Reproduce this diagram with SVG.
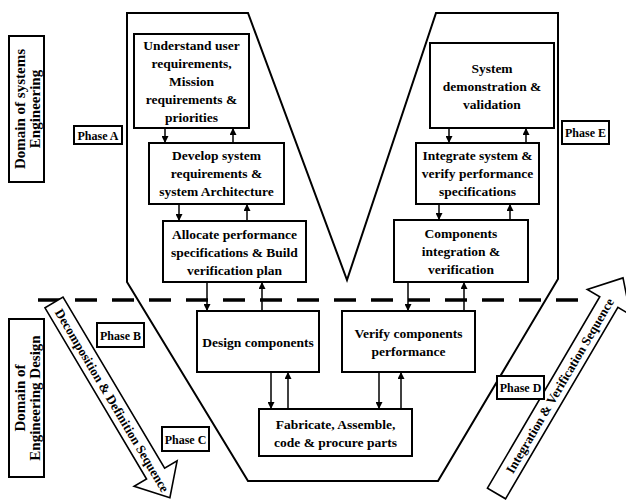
<svg xmlns="http://www.w3.org/2000/svg" width="626" height="500" viewBox="0 0 626 500">
  <defs>
    <style>
      .bg { fill: #ffffff; }
      .frame { fill: none; stroke: #000; stroke-width: 2; stroke-linejoin: miter; }
      .box { fill: #ffffff; stroke: #000; stroke-width: 2; }
      .lbl { font-family: "Liberation Serif", "Times New Roman", serif; font-weight: bold; font-size: 13.5px; fill: #000; text-anchor: middle; }
      .phase { font-family: "Liberation Serif", "Times New Roman", serif; font-weight: bold; font-size: 12px; fill: #000; text-anchor: middle; }
      .dom { font-family: "Liberation Serif", "Times New Roman", serif; font-weight: bold; font-size: 15px; fill: #000; text-anchor: middle; }
      .seq { font-family: "Liberation Serif", "Times New Roman", serif; font-weight: bold; font-size: 13px; fill: #000; text-anchor: middle; }
      .bigarrow { fill: #ffffff; stroke: #000; stroke-width: 1.6; stroke-linejoin: miter; }
      .conn { stroke: #000; stroke-width: 1.5; fill: none; marker-end: url(#head); }
      .divider { stroke: #000; stroke-width: 3.5; stroke-dasharray: 22 15; fill: none; }
    </style>
    <marker id="head" viewBox="0 0 8 8" refX="8" refY="4" markerUnits="userSpaceOnUse" markerWidth="7" markerHeight="7" orient="auto">
      <path d="M0,0 L8,4 L0,8 z" fill="#000"/>
    </marker>
  </defs>

  <rect class="bg" x="0" y="0" width="626" height="500"/>

  <!-- V-shaped outline enclosing the life-cycle steps -->
  <polygon id="v-outline" class="frame" points="127,13 248,13 347,280 436,13 558,13 558,279 438,481 248,481 127,282"/>

  <!-- boundary between systems engineering and engineering design -->
  <line id="domain-divider" class="divider" x1="38" y1="300" x2="580" y2="300"/>

  <!-- process steps -->
  <g id="understand-requirements">
    <rect class="box" x="134" y="34" width="115" height="94"/>
    <text class="lbl" x="191.5" y="50">Understand user</text>
    <text class="lbl" x="191.5" y="68">requirements,</text>
    <text class="lbl" x="191.5" y="86">Mission</text>
    <text class="lbl" x="191.5" y="104">requirements &amp;</text>
    <text class="lbl" x="191.5" y="122">priorities</text>
  </g>

  <g id="develop-system-requirements">
    <rect class="box" x="149" y="143" width="135" height="61"/>
    <text class="lbl" x="216.5" y="160">Develop system</text>
    <text class="lbl" x="216.5" y="178">requirements &amp;</text>
    <text class="lbl" x="216.5" y="196">system Architecture</text>
  </g>

  <g id="allocate-performance">
    <rect class="box" x="163" y="221" width="143" height="61"/>
    <text class="lbl" x="234.5" y="238.5">Allocate performance</text>
    <text class="lbl" x="234.5" y="256.5">specifications &amp; Build</text>
    <text class="lbl" x="234.5" y="274.5">verification plan</text>
  </g>

  <g id="system-demonstration">
    <rect class="box" x="430" y="43" width="124" height="85"/>
    <text class="lbl" x="492" y="72.5">System</text>
    <text class="lbl" x="492" y="90.5">demonstration &amp;</text>
    <text class="lbl" x="492" y="108.5">validation</text>
  </g>

  <g id="integrate-system">
    <rect class="box" x="416" y="143" width="123" height="61"/>
    <text class="lbl" x="477.5" y="160">Integrate system &amp;</text>
    <text class="lbl" x="477.5" y="178">verify performance</text>
    <text class="lbl" x="477.5" y="196">specifications</text>
  </g>

  <g id="components-integration">
    <rect class="box" x="394" y="220" width="134" height="62"/>
    <text class="lbl" x="461" y="238">Components</text>
    <text class="lbl" x="461" y="256">integration &amp;</text>
    <text class="lbl" x="461" y="274">verification</text>
  </g>

  <g id="design-components">
    <rect class="box" x="197" y="311" width="122" height="61"/>
    <text class="lbl" x="258" y="346.5">Design components</text>
  </g>

  <g id="verify-components">
    <rect class="box" x="342" y="311" width="133" height="61"/>
    <text class="lbl" x="408.5" y="337.5">Verify components</text>
    <text class="lbl" x="408.5" y="355.5">performance</text>
  </g>

  <g id="fabricate">
    <rect class="box" x="259" y="409" width="153" height="47"/>
    <text class="lbl" x="335.5" y="428.5">Fabricate, Assemble,</text>
    <text class="lbl" x="335.5" y="446.5">code &amp; procure parts</text>
  </g>

  <!-- flows between steps -->
  <g id="connectors">
    <line class="conn" x1="165" y1="128" x2="165" y2="143"/>
    <line class="conn" x1="233" y1="143" x2="233" y2="128"/>
    <line class="conn" x1="179" y1="204" x2="179" y2="221"/>
    <line class="conn" x1="247" y1="221" x2="247" y2="204"/>
    <line class="conn" x1="207" y1="282" x2="207" y2="311"/>
    <line class="conn" x1="262" y1="311" x2="262" y2="282"/>
    <line class="conn" x1="449" y1="128" x2="449" y2="143"/>
    <line class="conn" x1="526" y1="143" x2="526" y2="128"/>
    <line class="conn" x1="439" y1="204" x2="439" y2="220"/>
    <line class="conn" x1="510" y1="220" x2="510" y2="204"/>
    <line class="conn" x1="408" y1="282" x2="408" y2="311"/>
    <line class="conn" x1="464" y1="311" x2="464" y2="282"/>
    <line class="conn" x1="271" y1="372" x2="271" y2="409"/>
    <line class="conn" x1="288" y1="409" x2="288" y2="372"/>
    <line class="conn" x1="379" y1="372" x2="379" y2="409"/>
    <line class="conn" x1="401" y1="409" x2="401" y2="372"/>
  </g>

  <!-- sequence arrows -->
  <g id="decomposition-arrow" transform="translate(54,302.5) rotate(59.3)">
    <polygon class="bigarrow" points="0,-10.5 199,-10.5 199,-25 227,0 199,25 199,10.5 0,10.5"/>
    <text class="seq" x="114" y="4.5">Decomposition &amp; Definition Sequence</text>
  </g>

  <g id="integration-arrow" transform="translate(496.5,493.5) rotate(-59.6)">
    <polygon class="bigarrow" points="0,-10.5 222,-10.5 222,-25 250,0 222,25 222,10.5 0,10.5"/>
    <text class="seq" x="125" y="4.5">Integration &amp; Verification Sequence</text>
  </g>

  <!-- phase tags -->
  <g id="phase-a">
    <rect class="box" x="74" y="126" width="48" height="18"/>
    <text class="phase" x="98" y="139.5">Phase A</text>
  </g>
  <g id="phase-b">
    <rect class="box" x="97" y="323" width="47" height="24"/>
    <text class="phase" x="120.5" y="339.5">Phase B</text>
  </g>
  <g id="phase-c">
    <rect class="box" x="162" y="427" width="47" height="24"/>
    <text class="phase" x="185.5" y="443.5">Phase C</text>
  </g>
  <g id="phase-d">
    <rect class="box" x="497" y="376" width="47" height="23"/>
    <text class="phase" x="520.5" y="392">Phase D</text>
  </g>
  <g id="phase-e">
    <rect class="box" x="562" y="121" width="47" height="23"/>
    <text class="phase" x="585.5" y="137">Phase E</text>
  </g>

  <!-- domain labels -->
  <g id="domain-systems">
    <rect class="box" x="9" y="36" width="35" height="146"/>
    <text class="dom" transform="translate(25,109) rotate(-90)">Domain of systems</text>
    <text class="dom" transform="translate(39.5,109) rotate(-90)">Engineering</text>
  </g>
  <g id="domain-design">
    <rect class="box" x="9" y="319" width="35" height="158"/>
    <text class="dom" transform="translate(25,398) rotate(-90)">Domain of</text>
    <text class="dom" transform="translate(39.5,398) rotate(-90)">Engineering Design</text>
  </g>
</svg>
